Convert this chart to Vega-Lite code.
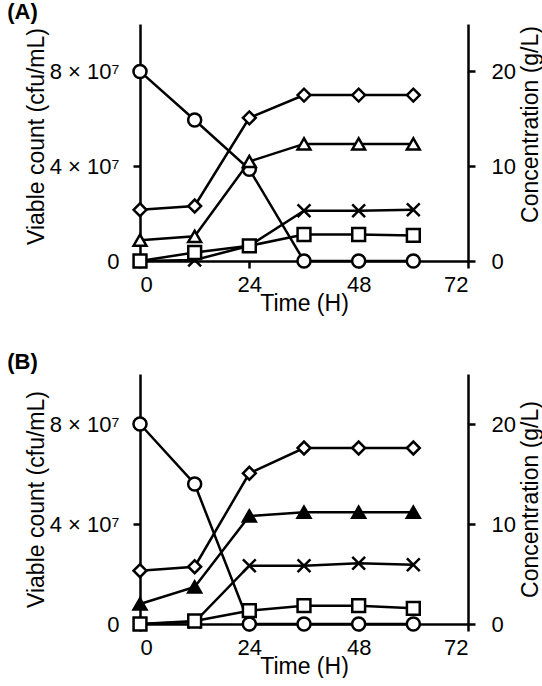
{
  "$schema": "https://vega.github.io/schema/vega-lite/v6.json",
  "padding": {"left": 7, "top": 1, "right": 0, "bottom": 0},
  "autosize": {"type": "pad"},
  "background": "white",
  "spacing": 36,
  "config": {
    "font": "Liberation Sans",
    "view": {"stroke": null},
    "axis": {
      "domainColor": "black", "domainWidth": 2.5, "tickColor": "black", "tickWidth": 2.5, "tickSize": 7,
      "labelColor": "black", "titleColor": "black", "labelFontSize": 22, "titleFontSize": 23,
      "titleFontWeight": "normal", "grid": false, "labelFont": "Liberation Sans", "titleFont": "Liberation Sans", "zindex": 1
    },
    "title": {"fontSize": 22, "fontWeight": "bold", "anchor": "start", "frame": "bounds", "color": "black", "font": "Liberation Sans"}
  },
  "datasets": {
    "A_viable": [
      {"time": 0, "count": 80000000}, {"time": 12, "count": 59500000}, {"time": 24, "count": 38700000},
      {"time": 36, "count": 0}, {"time": 48, "count": 0}, {"time": 60, "count": 0}
    ],
    "A_conc": [
      {"time": 0, "compound": "Compound 1", "conc": 5.4}, {"time": 12, "compound": "Compound 1", "conc": 5.8},
      {"time": 24, "compound": "Compound 1", "conc": 15.1}, {"time": 36, "compound": "Compound 1", "conc": 17.5},
      {"time": 48, "compound": "Compound 1", "conc": 17.5}, {"time": 60, "compound": "Compound 1", "conc": 17.5},
      {"time": 0, "compound": "Compound 2", "conc": 2.2}, {"time": 12, "compound": "Compound 2", "conc": 2.6},
      {"time": 24, "compound": "Compound 2", "conc": 10.5}, {"time": 36, "compound": "Compound 2", "conc": 12.35},
      {"time": 48, "compound": "Compound 2", "conc": 12.35}, {"time": 60, "compound": "Compound 2", "conc": 12.35},
      {"time": 0, "compound": "Compound 3", "conc": 0}, {"time": 12, "compound": "Compound 3", "conc": 0.1},
      {"time": 24, "compound": "Compound 3", "conc": 1.6}, {"time": 36, "compound": "Compound 3", "conc": 5.3},
      {"time": 48, "compound": "Compound 3", "conc": 5.3}, {"time": 60, "compound": "Compound 3", "conc": 5.4},
      {"time": 0, "compound": "Compound 4", "conc": 0}, {"time": 12, "compound": "Compound 4", "conc": 0.9},
      {"time": 24, "compound": "Compound 4", "conc": 1.6}, {"time": 36, "compound": "Compound 4", "conc": 2.8},
      {"time": 48, "compound": "Compound 4", "conc": 2.8}, {"time": 60, "compound": "Compound 4", "conc": 2.7}
    ],
    "B_viable": [
      {"time": 0, "count": 80000000}, {"time": 12, "count": 56000000}, {"time": 24, "count": 0},
      {"time": 36, "count": 0}, {"time": 48, "count": 0}, {"time": 60, "count": 0}
    ],
    "B_conc": [
      {"time": 0, "compound": "Compound 1", "conc": 5.33}, {"time": 12, "compound": "Compound 1", "conc": 5.73},
      {"time": 24, "compound": "Compound 1", "conc": 15.07}, {"time": 36, "compound": "Compound 1", "conc": 17.6},
      {"time": 48, "compound": "Compound 1", "conc": 17.6}, {"time": 60, "compound": "Compound 1", "conc": 17.6},
      {"time": 0, "compound": "Compound 2", "conc": 2.0}, {"time": 12, "compound": "Compound 2", "conc": 3.7},
      {"time": 24, "compound": "Compound 2", "conc": 10.8}, {"time": 36, "compound": "Compound 2", "conc": 11.17},
      {"time": 48, "compound": "Compound 2", "conc": 11.17}, {"time": 60, "compound": "Compound 2", "conc": 11.17},
      {"time": 0, "compound": "Compound 3", "conc": 0}, {"time": 12, "compound": "Compound 3", "conc": 0.2},
      {"time": 24, "compound": "Compound 3", "conc": 5.83}, {"time": 36, "compound": "Compound 3", "conc": 5.83},
      {"time": 48, "compound": "Compound 3", "conc": 6.07}, {"time": 60, "compound": "Compound 3", "conc": 5.93},
      {"time": 0, "compound": "Compound 4", "conc": 0}, {"time": 12, "compound": "Compound 4", "conc": 0.3},
      {"time": 24, "compound": "Compound 4", "conc": 1.33}, {"time": 36, "compound": "Compound 4", "conc": 1.83},
      {"time": 48, "compound": "Compound 4", "conc": 1.83}, {"time": 60, "compound": "Compound 4", "conc": 1.57}
    ]
  },
  "vconcat": [
    {
      "width": 328, "height": 237,
      "title": {"text": "(A)", "dx": -18, "offset": 0},
      "layer": [
        {
          "data": {"name": "A_viable"},
          "encoding": {
            "x": {"field": "time", "type": "quantitative", "scale": {"domain": [0, 72], "nice": false},
                  "axis": {"values": [0, 24, 48, 72], "title": "Time (H)", "labelPadding": 6, "titlePadding": -3}},
            "y": {"field": "count", "type": "quantitative", "scale": {"domain": [0, 100000000], "nice": false},
                  "axis": {"orient": "left", "title": "Viable count (cfu/mL)", "values": [0, 40000000, 80000000],
                           "labelExpr": "datum.value == 0 ? '0' : format(datum.value / 10000000, 'd') + ' × 10⁷'",
                           "labelPadding": 14, "titlePadding": 1, "titleY": 112}}
          },
          "layer": [
            {"mark": {"type": "line", "color": "black", "strokeWidth": 2.5}},
            {"mark": {"type": "point", "shape": "circle", "filled": true, "fill": "white", "stroke": "black", "strokeWidth": 2.5, "size": 170, "opacity": 1}}
          ]
        },
        {
          "data": {"name": "A_conc"},
          "encoding": {
            "x": {"field": "time", "type": "quantitative", "scale": {"domain": [0, 72], "nice": false},
                  "axis": {"values": [0, 24, 48, 72], "title": "Time (H)", "labelPadding": 6, "titlePadding": -3}},
            "y": {"field": "conc", "type": "quantitative", "scale": {"domain": [0, 25], "nice": false},
                  "axis": {"orient": "right", "title": "Concentration (g/L)", "values": [0, 10, 20],
                           "labelPadding": 16, "titlePadding": 4, "titleAngle": 270, "titleBaseline": "top", "titleY": 100}}
          },
          "layer": [
            {"mark": {"type": "line", "color": "black", "strokeWidth": 2.5}, "encoding": {"detail": {"field": "compound"}}},
            {"mark": {"type": "point", "filled": true, "fill": "white", "stroke": "black", "strokeWidth": 2.5, "size": 165, "opacity": 1},
             "encoding": {"shape": {"field": "compound", "type": "nominal", "legend": null,
               "scale": {"domain": ["Compound 1", "Compound 2", "Compound 3", "Compound 4"],
                         "range": ["diamond", "triangle-up", "M-1,-1L1,1M-1,1L1,-1", "square"]}}}}
          ]
        }
      ],
      "resolve": {"scale": {"y": "independent"}}
    },
    {
      "width": 328, "height": 250,
      "title": {"text": "(B)", "dx": -18, "offset": 0},
      "layer": [
        {
          "data": {"name": "B_viable"},
          "encoding": {
            "x": {"field": "time", "type": "quantitative", "scale": {"domain": [0, 72], "nice": false},
                  "axis": {"values": [0, 24, 48, 72], "title": "Time (H)", "labelPadding": 6, "titlePadding": -3}},
            "y": {"field": "count", "type": "quantitative", "scale": {"domain": [0, 100000000], "nice": false},
                  "axis": {"orient": "left", "title": "Viable count (cfu/mL)", "values": [0, 40000000, 80000000],
                           "labelExpr": "datum.value == 0 ? '0' : format(datum.value / 10000000, 'd') + ' × 10⁷'",
                           "labelPadding": 14, "titlePadding": 1}}
          },
          "layer": [
            {"mark": {"type": "line", "color": "black", "strokeWidth": 2.5}},
            {"mark": {"type": "point", "shape": "circle", "filled": true, "fill": "white", "stroke": "black", "strokeWidth": 2.5, "size": 170, "opacity": 1}}
          ]
        },
        {
          "data": {"name": "B_conc"},
          "encoding": {
            "x": {"field": "time", "type": "quantitative", "scale": {"domain": [0, 72], "nice": false},
                  "axis": {"values": [0, 24, 48, 72], "title": "Time (H)", "labelPadding": 6, "titlePadding": -3}},
            "y": {"field": "conc", "type": "quantitative", "scale": {"domain": [0, 25], "nice": false},
                  "axis": {"orient": "right", "title": "Concentration (g/L)", "values": [0, 10, 20],
                           "labelPadding": 16, "titlePadding": 4, "titleAngle": 270, "titleBaseline": "top"}}
          },
          "layer": [
            {"mark": {"type": "line", "color": "black", "strokeWidth": 2.5}, "encoding": {"detail": {"field": "compound"}}},
            {"mark": {"type": "point", "filled": true, "stroke": "black", "strokeWidth": 2.5, "size": 165, "opacity": 1},
             "encoding": {
               "fill": {"condition": {"test": "datum.compound === 'Compound 2'", "value": "black"}, "value": "white"},
               "shape": {"field": "compound", "type": "nominal", "legend": null,
               "scale": {"domain": ["Compound 1", "Compound 2", "Compound 3", "Compound 4"],
                         "range": ["diamond", "triangle-up", "M-1,-1L1,1M-1,1L1,-1", "square"]}}}}
          ]
        }
      ],
      "resolve": {"scale": {"y": "independent"}}
    }
  ]
}
